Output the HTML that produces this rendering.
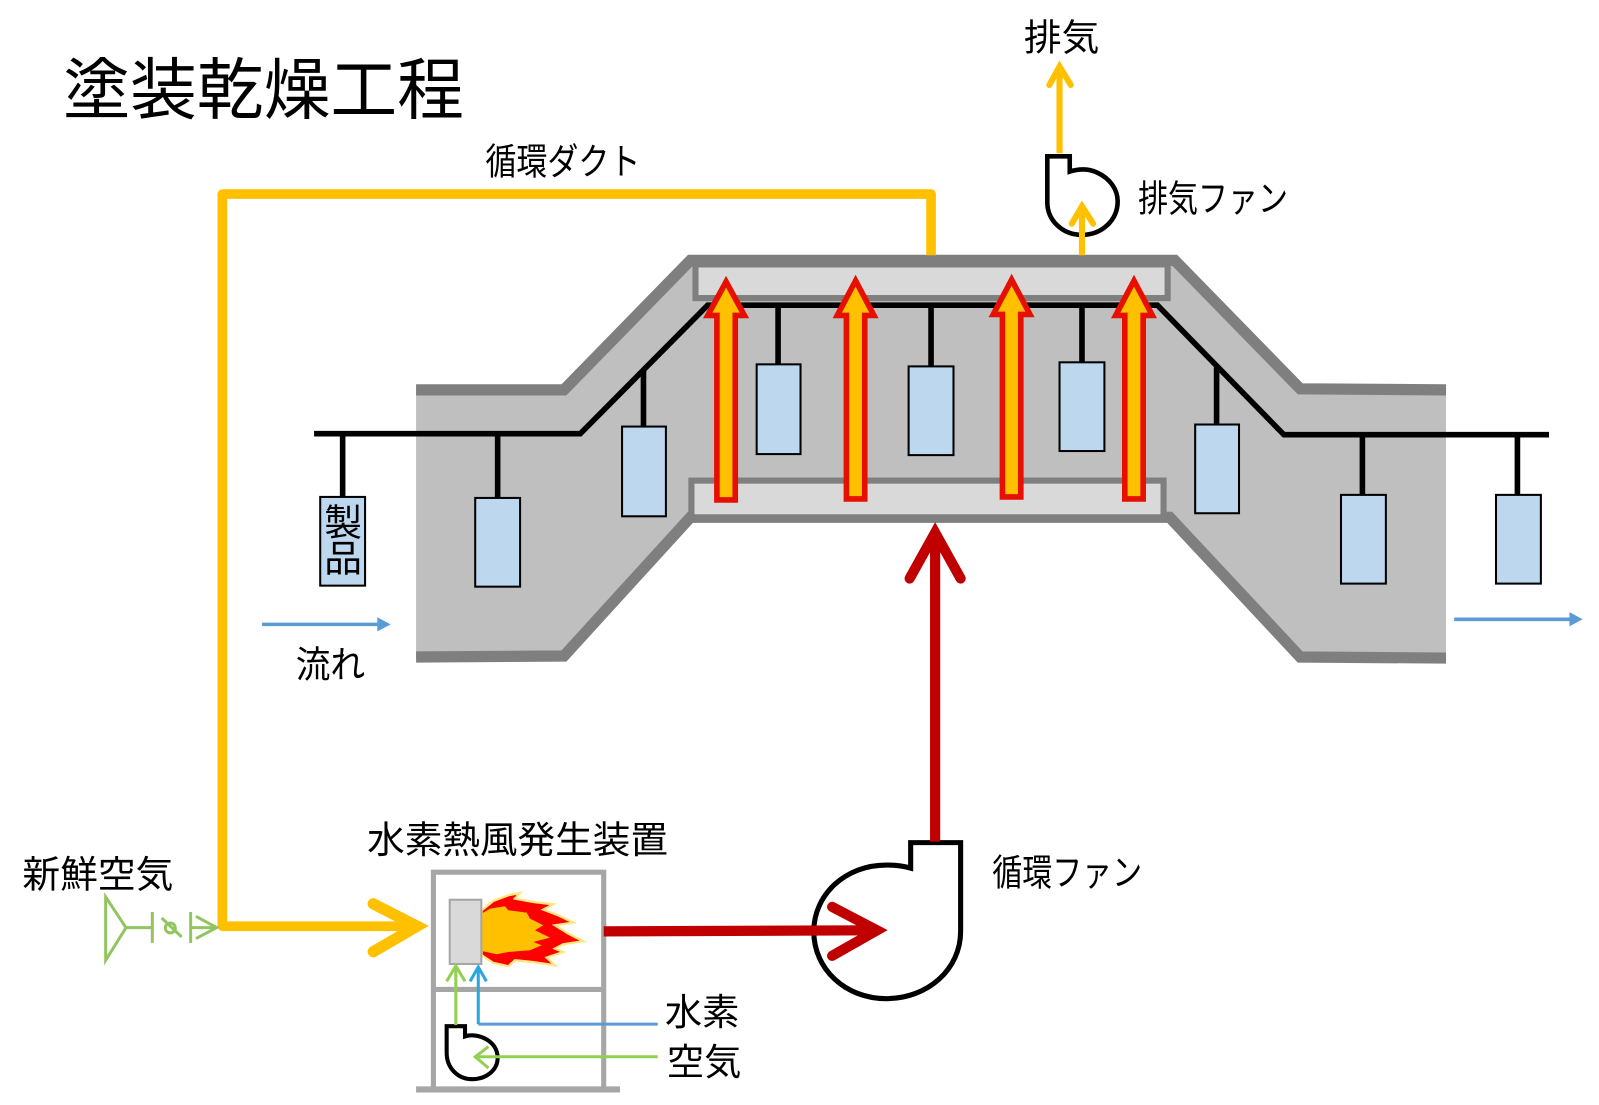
<!DOCTYPE html>
<html lang="ja"><head><meta charset="utf-8"><title>塗装乾燥工程</title>
<style>
html,body{margin:0;padding:0;background:#fff;width:1599px;height:1105px;overflow:hidden}
svg{display:block}
text{font-family:"Liberation Sans","Noto Sans CJK JP",sans-serif;font-weight:400;fill:#000}
</style></head><body>
<svg xmlns="http://www.w3.org/2000/svg" width="1599" height="1105" viewBox="0 0 1568 1083">
<rect width="1568" height="1083" fill="#fff"/>
<!-- oven body -->
<polygon points="408,382 553,382 677,255 1152,255 1275,381 1418,381 1418,645 1275,645 1147,507 677,507 553,643 408,645" fill="#bfbfbf"/>
<polyline points="408,382 553,382 677,255 1152,255 1275,381 1418,382" fill="none" stroke="#7f7f7f" stroke-width="11"/>
<polyline points="408,644 553,643 677,507 1147,507 1275,644 1418,645" fill="none" stroke="#7f7f7f" stroke-width="11"/>
<rect x="682" y="259" width="463" height="33" fill="#d9d9d9" stroke="#7f7f7f" stroke-width="6"/>
<rect x="678" y="471" width="463" height="36" fill="#d9d9d9" stroke="#7f7f7f" stroke-width="6"/>
<!-- conveyor -->
<polyline points="308,425 569,425 694,299 1135,299 1259,426 1519,426" fill="none" stroke="#000" stroke-width="5.5"/>
<g stroke="#000" stroke-width="5.5">
<line x1="336" y1="425" x2="336" y2="487"/><line x1="488" y1="425" x2="488" y2="488"/>
<line x1="631" y1="362" x2="631" y2="418"/><line x1="763" y1="299" x2="763" y2="357"/>
<line x1="913" y1="299" x2="913" y2="359"/><line x1="1061" y1="299" x2="1061" y2="355"/>
<line x1="1193" y1="360" x2="1193" y2="416"/><line x1="1336" y1="426" x2="1336" y2="485"/>
<line x1="1488" y1="426" x2="1488" y2="485"/>
</g>
<g fill="#bdd7ee" stroke="#000" stroke-width="2">
<rect x="314" y="487" width="44" height="87"/><rect x="466" y="488" width="44" height="87"/>
<rect x="610" y="418" width="43" height="88"/><rect x="742" y="357" width="43" height="88"/>
<rect x="891" y="359" width="44" height="87"/><rect x="1039" y="355" width="44" height="87"/>
<rect x="1172" y="416" width="43" height="87"/><rect x="1315" y="485" width="44" height="87"/>
<rect x="1467" y="485" width="44" height="87"/>
</g>
<!-- heat arrows -->
<g fill="#ffc000" stroke="#e60f00" stroke-width="5.500" stroke-linejoin="miter">
<polygon points="712,276 730,309 721,309 721,490 703,490 703,309 694,309"/>
<polygon points="839,275 857,309 848,309 848,489 830,489 830,309 821,309"/>
<polygon points="992,274 1010,308 1001,308 1001,487 983,487 983,308 974,308"/>
<polygon points="1112,275 1130,309 1121,309 1121,489 1103,489 1103,309 1094,309"/>
</g>
<!-- yellow duct -->
<polyline points="913,250 913,190 218,190 218,908 405,908" fill="none" stroke="#ffc000" stroke-width="9.500" stroke-linejoin="round"/>
<polyline points="366,886 409,908 366,933" fill="none" stroke="#ffc000" stroke-width="11" stroke-linecap="round" stroke-linejoin="miter"/>
<!-- exhaust -->
<path d="M1027,153 H1049 V168 C1058,165 1068,165 1076,169 C1089,175 1096,186 1096,197 C1096,216 1080,230 1061,230 C1042,230 1027,216 1027,198 Z" fill="#fff" stroke="#000" stroke-width="4.500"/>
<line x1="1039" y1="150" x2="1039" y2="68" stroke="#ffc000" stroke-width="6"/>
<polyline points="1029,83 1039,65 1050,83" fill="none" stroke="#ffc000" stroke-width="6" stroke-linecap="round"/>
<line x1="1061" y1="250" x2="1061" y2="203" stroke="#ffc000" stroke-width="6"/>
<polyline points="1051,219 1061,202 1072,219" fill="none" stroke="#ffc000" stroke-width="6" stroke-linecap="round"/>
<!-- generator box -->
<g fill="none" stroke="#a6a6a6" stroke-width="5">
<path d="M425,1068 V855 H592 V1068"/><line x1="425" y1="970" x2="592" y2="970"/>
</g>
<line x1="408" y1="1068" x2="608" y2="1068" stroke="#a6a6a6" stroke-width="6"/>
<!-- circulation fan -->
<path d="M893,851 V826 H942 V913 C942,950 910,979 869,979 C829,979 798,950 798,913 C798,877 829,848 869,848 C878,848 886,849 893,851 Z" fill="#fff" stroke="#000" stroke-width="5"/>
<line x1="917" y1="825" x2="917" y2="525" stroke="#c00000" stroke-width="10"/>
<polyline points="892,567 917,522 942,567" fill="none" stroke="#c00000" stroke-width="10" stroke-linecap="round"/>
<line x1="592" y1="913" x2="855" y2="912" stroke="#c00000" stroke-width="10"/>
<polyline points="816,889 860,912 816,937" fill="none" stroke="#c00000" stroke-width="10" stroke-linecap="round"/>
<!-- flame -->
<g transform="scale(.9806) translate(440,880) scale(.3333)">
<polygon points="125,90 160,62 205,45 240,38 225,55 280,65 340,72 310,88 355,105 400,127 345,135 385,160 430,183 370,192 345,205 370,215 320,232 345,255 275,245 225,240 205,258 160,248 125,225" fill="#f00" stroke="#ffe680" stroke-width="7"/>
<polygon points="125,100 150,85 195,78 205,90 260,97 270,115 310,135 285,150 330,172 280,185 305,195 270,210 205,215 170,222 125,212" fill="#ffc000"/>
</g>
<rect x="441" y="882" width="31" height="63" fill="#d9d9d9" stroke="#a6a6a6" stroke-width="2"/>
<!-- small fan -->
<path d="M438,1006 H456 V1016 C468,1012 488,1020 488,1037 C488,1049 477,1058 463,1058 C449,1058 438,1047 438,1032 Z" fill="#fff" stroke="#000" stroke-width="4"/>
<!-- feeds -->
<g fill="none" stroke="#92d050" stroke-width="3">
<line x1="447" y1="1005" x2="447" y2="948"/><polyline points="438,962 447,947 456,962"/>
<line x1="645" y1="1036" x2="468" y2="1036"/><polyline points="479,1026 466,1036 479,1047"/>
</g>
<g transform="scale(.9806) translate(90,880) scale(.3333)" fill="none" stroke="#92c55f" stroke-width="9">
<polygon points="47,50 108,142 47,240"/>
<line x1="108" y1="142" x2="187" y2="142"/><line x1="187" y1="95" x2="187" y2="188"/>
<circle cx="241" cy="143" r="15"/><line x1="215" y1="113" x2="275" y2="170"/>
<line x1="302" y1="95" x2="302" y2="188"/><line x1="302" y1="142" x2="380" y2="142"/>
<polyline points="318,108 380,142 318,175"/>
</g>
<path d="M645,1004 H469" fill="none" stroke="#5b9bd5" stroke-width="3"/>
<line x1="469" y1="1004" x2="469" y2="949" stroke="#29a8df" stroke-width="3"/>
<polyline points="461,962 469,948 477,962" fill="none" stroke="#29a8df" stroke-width="3"/>
<!-- flow arrows -->
<line x1="257" y1="612" x2="372" y2="612" stroke="#5b9bd5" stroke-width="3.500"/>
<polygon points="370,605 383,612 370,619" fill="#5b9bd5"/>
<line x1="1426" y1="607" x2="1541" y2="607" stroke="#5b9bd5" stroke-width="3.500"/>
<polygon points="1539,600 1552,607 1539,614" fill="#5b9bd5"/>
<!-- labels -->
<text x="62" y="111" font-size="66" textLength="393" lengthAdjust="spacingAndGlyphs">塗装乾燥工程</text>
<text x="476" y="171" font-size="36" textLength="152" lengthAdjust="spacingAndGlyphs">循環ダクト</text>
<text x="1004" y="49" font-size="36" textLength="74" lengthAdjust="spacingAndGlyphs">排気</text>
<text x="1116" y="207" font-size="36" textLength="147" lengthAdjust="spacingAndGlyphs">排気ファン</text>
<text x="290" y="664" font-size="36" textLength="68" lengthAdjust="spacingAndGlyphs">流れ</text>
<text x="22" y="870" font-size="37" textLength="148" lengthAdjust="spacingAndGlyphs">新鮮空気</text>
<text x="360" y="836" font-size="37" textLength="295" lengthAdjust="spacingAndGlyphs">水素熱風発生装置</text>
<text x="973" y="868" font-size="36" textLength="147" lengthAdjust="spacingAndGlyphs">循環ファン</text>
<text x="652" y="1005" font-size="36" textLength="73" lengthAdjust="spacingAndGlyphs">水素</text>
<text x="654" y="1054" font-size="36" textLength="73" lengthAdjust="spacingAndGlyphs">空気</text>
<text x="318" y="525" font-size="36" textLength="37" lengthAdjust="spacingAndGlyphs">製</text>
<text x="318" y="560" font-size="36" textLength="37" lengthAdjust="spacingAndGlyphs">品</text>
</svg>
</body></html>
